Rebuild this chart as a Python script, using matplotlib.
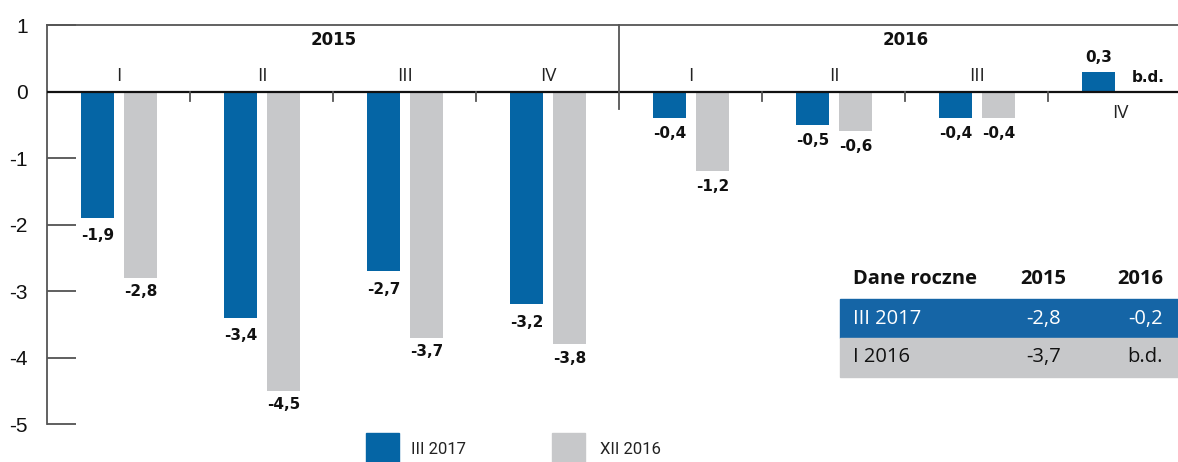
import matplotlib
matplotlib.use("Agg")
import matplotlib.pyplot as plt
from matplotlib.patches import Rectangle

# ---- data ----
years = ["2015", "2016"]
quarters = ["I", "II", "III", "IV", "I", "II", "III", "IV"]
iii_2017 = [-1.9, -3.4, -2.7, -3.2, -0.4, -0.5, -0.4, 0.3]
xii_2016 = [-2.8, -4.5, -3.7, -3.8, -1.2, -0.6, -0.4, None]
series_names = ["III 2017", "XII 2016"]
yticks = [1, 0, -1, -2, -3, -4, -5]
table_header = ["Dane roczne", "2015", "2016"]
table_rows = [["III 2017", "-2,8", "-0,2"], ["I 2016", "-3,7", "b.d."]]
missing_label = "b.d."

BLUE = "#0565a5"
TBLUE = "#1565a6"
GRAY = "#c7c8ca"
W, H = 1178, 462
VFONT = "DejaVu Sans"

def fmt(v):
    return f"{v:.1f}".replace(".", ",")

fig = plt.figure(figsize=(W / 100, H / 100), dpi=100)
ax = fig.add_axes([47 / W, (H - 424) / H, 1 - 47 / W, (424 - 25) / H])

n = len(quarters)
off, bw = 0.15, 0.23
ax.set_xlim(-0.503, 7.406)
ax.set_ylim(-5, 1)

def vlabel(xp, v, dy_pts):
    ax.annotate(fmt(v), (xp, v), xytext=(0, dy_pts), textcoords="offset points",
                ha="center", va="center", fontsize=11, fontweight="bold",
                family=VFONT, color="#111")

for i in range(n):
    v = iii_2017[i]
    ax.bar(i - off, v, bw, color=BLUE, zorder=2)
    if v < 0:
        vlabel(i - off, v, -13 if i < 4 else -11)
    else:
        vlabel(i - off, v, 10)
    g = xii_2016[i]
    if g is not None:
        ax.bar(i + off, g, bw, color=GRAY, zorder=2)
        vlabel(i + off, g, -10 if i < 4 else -11)
    else:
        ax.annotate(missing_label, (i + off + 0.05, 0), xytext=(0, 10), textcoords="offset points",
                    ha="center", va="center", fontsize=11, fontweight="bold",
                    family=VFONT, color="#111")
    # quarter labels
    top = max(v, g if g is not None else v)
    if top > 0:
        ax.annotate(quarters[i], (i, 0), xytext=(0, -15.5), textcoords="offset points",
                    ha="center", va="center", fontsize=13.5, family="Open Sans", color="#222")
    else:
        ax.annotate(quarters[i], (i, 0), xytext=(0, 11), textcoords="offset points",
                    ha="center", va="center", fontsize=13.5, family="Open Sans", color="#222")

# year labels
ax.text(1.5, 0.77, years[0], ha="center", va="center", fontsize=12, fontweight="bold",
        family=VFONT, color="#111")
ax.text(5.5, 0.77, years[1], ha="center", va="center", fontsize=12, fontweight="bold",
        family=VFONT, color="#111")

# zero line, separator, group ticks
ax.axhline(0, color="#111", lw=1.6, zorder=3)
ax.plot([3.5, 3.5], [1, -0.26], color="#555", lw=1.3, zorder=3, clip_on=False)
for b in [0.5, 1.5, 2.5, 4.5, 5.5, 6.5]:
    ax.plot([b, b], [0, -0.15], color="#555", lw=1.3, zorder=3)

# spines and ticks
for s in ["right", "bottom"]:
    ax.spines[s].set_visible(False)
ax.spines["left"].set_color("#555")
ax.spines["top"].set_color("#555")
ax.spines["left"].set_linewidth(1.3)
ax.spines["top"].set_linewidth(1.3)
ax.set_xticks([])
ax.set_yticks(yticks)
ax.set_yticklabels([str(t) for t in yticks], family="Liberation Sans", fontsize=15, color="#111")
ax.tick_params(axis="y", direction="in", length=21, width=1.2, color="#444", pad=14)

# table
def fx(px):
    return px / W

def fy(py):
    return 1 - py / H

fig.patches.append(Rectangle((fx(840), fy(338)), fx(1178) - fx(840), fy(299) - fy(338),
                             transform=fig.transFigure, color=TBLUE, zorder=1))
fig.patches.append(Rectangle((fx(840), fy(377)), fx(1178) - fx(840), fy(338) - fy(377),
                             transform=fig.transFigure, color=GRAY, zorder=1))
col_x = [853, 1066, 1163]
ha = ["left", "right", "right"]
for j, t in enumerate(table_header):
    fig.text(fx(col_x[j]), fy(279), t, ha=ha[j], va="center", fontsize=14.5,
             fontweight="bold", family="Open Sans", color="#111")
row_y = [319, 357]
row_c = ["white", "#111"]
for r, row in enumerate(table_rows):
    for j, t in enumerate(row):
        xx = col_x[j] - (5 if j == 1 else 0)
        fig.text(fx(xx), fy(row_y[r]), t, ha=ha[j], va="center", fontsize=14.5,
                 family="Open Sans", color=row_c[r])

# legend
for k, (x0, col, tx) in enumerate([(366, BLUE, 411), (552, GRAY, 600)]):
    fig.patches.append(Rectangle((fx(x0), fy(462)), fx(33), 29 / H,
                                 transform=fig.transFigure, color=col))
    fig.text(fx(tx), fy(450), series_names[k], ha="left", va="center", fontsize=12,
             family="Roboto", color="#222")

fig.savefig("out.png", dpi=100)
